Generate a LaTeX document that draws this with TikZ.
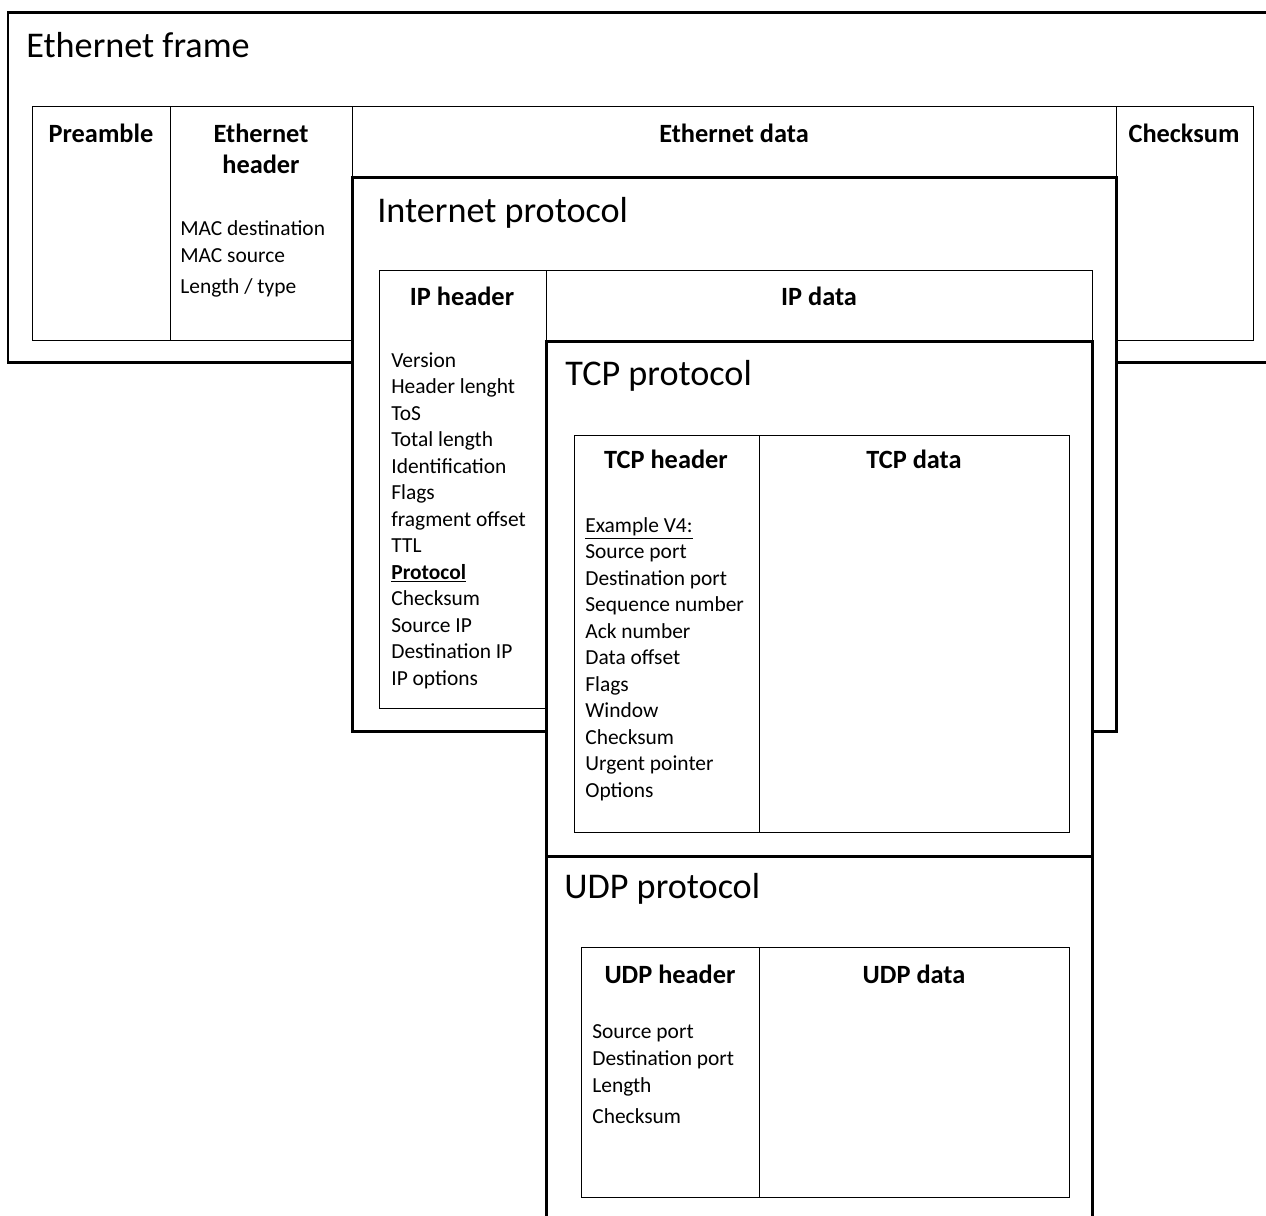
\documentclass[tikz,border=0pt]{standalone}
\usepackage{fontspec}
\setmainfont{Carlito}
\tikzset{
  frame/.style={draw=black, line width=1.7pt, fill=white},
  cell/.style={draw=black, line width=0.5pt},
  title/.style={inner sep=0pt, anchor=base west, font=\fontsize{20.6}{24}\selectfont},
  head/.style={inner sep=0pt, anchor=base, font=\fontsize{15}{18}\selectfont\bfseries},
  item/.style={inner sep=0pt, anchor=base west, font=\fontsize{12.2}{15}\selectfont},
}

\begin{document}
\begin{tikzpicture}[x=0.02cm, y=-0.02cm]
  \useasboundingbox (0,0) rectangle (1266,1215);
  \clip (0,0) rectangle (1266,1215);
  % ethernet frame
  \draw[frame] (8,12) rectangle (1300,362);
  \draw[cell] (32,106) rectangle (170,340);
  \draw[cell] (170,106) rectangle (352,340);
  \draw[cell] (352,106) rectangle (1116,340);
  \draw[cell] (1116,106) rectangle (1253,340);
  \node[title] (ethtitle) at (26,57) {Ethernet frame};
  \node[head] (pre) at (101,142) {Preamble};
  \node[head] (ethhd) at (261,142) {Ethernet};
  \node[head] (ethhdb) at (261,173) {header};
  \node[head] (ethdata) at (734,142) {Ethernet data};
  \node[head] (ethcks) at (1184,142) {Checksum};
  \node[item] (ethf0) at (180,235) {MAC destination};
  \node[item] (ethf1) at (180,262) {MAC source};
  \node[item] (ethf2) at (180,293) {Length / type};
  % internet protocol
  \draw[frame] (352,177) rectangle (1116,731);
  \draw[cell] (379,270) rectangle (546,708);
  \draw[cell] (546,270) rectangle (1092,700);
  \node[title] (iptitle) at (377,222) {Internet protocol};
  \node[head] (iphd) at (462,305) {IP header};
  \node[head] (ipdata) at (819,305) {IP data};
  \foreach \t [count=\i from 0] in {Version, Header lenght, ToS, Total length,
      Identification, Flags, fragment offset, TTL, {\textbf{\underline{Protocol}}},
      Checksum, Source IP, Destination IP, IP options}
    \node[item] (ipf\i) at (391,{367+26.5*\i}) {\t};
  % tcp
  \draw[frame] (546,341) rectangle (1092,856);
  \draw[cell] (574,435) rectangle (759,832);
  \draw[cell] (759,435) rectangle (1069,832);
  \node[title] (tcptitle) at (565,385) {TCP protocol};
  \node[head] (tcphd) at (666,468) {TCP header};
  \node[head] (tcpdata) at (914,468) {TCP data};
  \foreach \t [count=\i from 0] in {{\underline{Example V4:}}, Source port,
      Destination port, Sequence number, Ack number, Data offset, Flags,
      Window, Checksum, Urgent pointer, Options}
    \node[item] (tcpf\i) at (585,{532+26.5*\i}) {\t};
  % udp
  \draw[frame] (546,856) rectangle (1092,1260);
  \draw[cell] (581,947) rectangle (759,1197);
  \draw[cell] (759,947) rectangle (1069,1197);
  \node[title] (udptitle) at (564,898) {UDP protocol};
  \node[head] (udphd) at (670,983) {UDP header};
  \node[head] (udpdata) at (914,983) {UDP data};
  \node[item] (udpf0) at (592,1038) {Source port};
  \node[item] (udpf1) at (592,1065) {Destination port};
  \node[item] (udpf2) at (592,1092) {Length};
  \node[item] (udpf3) at (592,1123) {Checksum};
\end{tikzpicture}
\end{document}
